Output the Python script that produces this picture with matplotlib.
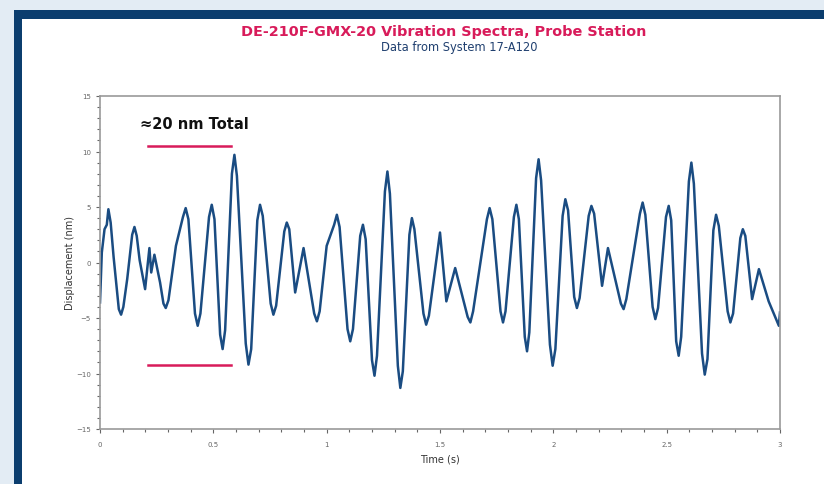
#!/usr/bin/env python3
# vibration trace, probe station
import matplotlib
matplotlib.use("Agg")
import matplotlib.pyplot as plt
from matplotlib.patches import Rectangle
from matplotlib.ticker import MultipleLocator

# points (peaks, troughs and the shoulders around them)
time_s = [0.000, 0.008, 0.020, 0.030, 0.037, 0.047, 0.060, 0.083, 0.093, 0.103,
          0.120, 0.142, 0.152, 0.162, 0.175, 0.199, 0.218, 0.226, 0.240, 0.265,
          0.280, 0.290, 0.302, 0.335, 0.366, 0.378, 0.390, 0.419, 0.431, 0.443,
          0.481, 0.493, 0.505, 0.530, 0.541, 0.552, 0.582, 0.593, 0.604, 0.643,
          0.655, 0.667, 0.694, 0.706, 0.718, 0.753, 0.765, 0.777, 0.813, 0.824,
          0.835, 0.861, 0.898, 0.945, 0.957, 0.969, 1.000, 1.033, 1.045, 1.057,
          1.092, 1.104, 1.116, 1.148, 1.160, 1.172, 1.200, 1.211, 1.222, 1.257,
          1.268, 1.279, 1.314, 1.325, 1.336, 1.365, 1.376, 1.387, 1.427, 1.439,
          1.451, 1.500, 1.528, 1.567, 1.622, 1.634, 1.646, 1.707, 1.719, 1.731,
          1.767, 1.778, 1.789, 1.826, 1.837, 1.848, 1.874, 1.884, 1.894, 1.924,
          1.935, 1.946, 1.985, 1.997, 2.009, 2.041, 2.053, 2.065, 2.092, 2.104,
          2.116, 2.156, 2.168, 2.180, 2.215, 2.241, 2.298, 2.310, 2.322, 2.382,
          2.394, 2.406, 2.438, 2.450, 2.462, 2.497, 2.509, 2.520, 2.542, 2.553,
          2.564, 2.598, 2.609, 2.620, 2.656, 2.668, 2.680, 2.706, 2.718, 2.730,
          2.769, 2.781, 2.793, 2.825, 2.836, 2.847, 2.877, 2.907, 2.950, 2.995,
          3.000]
disp_nm = [-3.6, 0.9, 3.0, 3.4, 4.8, 3.6, 0.5, -4.2, -4.7, -4.0,
           -1.5, 2.5, 3.2, 2.4, 0.2, -2.4, 1.3, -0.9, 0.7, -1.8,
           -3.7, -4.1, -3.4, 1.5, 4.1, 4.9, 3.9, -4.6, -5.7, -4.6,
           4.1, 5.2, 3.9, -6.5, -7.8, -6.1, 8.0, 9.7, 7.8, -7.3,
           -9.2, -7.8, 3.8, 5.2, 4.2, -3.7, -4.7, -3.9, 2.8, 3.6,
           3.0, -2.7, 1.3, -4.6, -5.3, -4.4, 1.5, 3.4, 4.3, 3.2,
           -6.0, -7.1, -6.0, 2.4, 3.4, 2.1, -8.8, -10.2, -8.4, 6.4,
           8.2, 6.2, -9.3, -11.3, -9.8, 2.5, 4.0, 3.0, -4.6, -5.6,
           -4.8, 2.7, -3.5, -0.5, -4.9, -5.4, -4.4, 3.9, 4.9, 3.9,
           -4.4, -5.4, -4.4, 4.1, 5.2, 3.9, -6.7, -8.0, -6.3, 7.6,
           9.3, 7.4, -7.4, -9.3, -7.8, 4.2, 5.7, 4.7, -3.1, -4.1,
           -3.2, 4.2, 5.1, 4.4, -2.1, 1.3, -3.7, -4.2, -3.3, 4.4,
           5.4, 4.3, -4.0, -5.1, -4.1, 4.1, 5.1, 3.8, -7.1, -8.4,
           -6.7, 7.3, 9.0, 7.1, -8.2, -10.1, -8.7, 2.9, 4.3, 3.3,
           -4.4, -5.4, -4.6, 2.2, 3.0, 2.4, -3.3, -0.6, -3.5, -5.7,
           -4.5]

# the "≈20 nm Total" markers
span_t = [0.21, 0.58]
span_hi = 10.5
span_lo = -9.2

navy = "#1a4c82"
crimson = "#d81b5a"

fig = plt.figure(figsize=(8.24, 4.85), dpi=100)
fig.patch.set_facecolor("#e3ecf4")
# dark frame + white panel (kept behind the axes)
fig.patches.append(Rectangle((14 / 824, 0), 1, 1 - 11 / 485, transform=fig.transFigure,
                             facecolor="#0b3d6e", edgecolor="none", zorder=-10))
fig.patches.append(Rectangle((22 / 824, 0), 1, 1 - 20 / 485, transform=fig.transFigure,
                             facecolor="white", edgecolor="none", zorder=-9))

fig.text(444 / 824, 1 - 32 / 485, "DE-210F-GMX-20 Vibration Spectra, Probe Station",
         ha="center", va="center", color=crimson, fontsize=10.4, fontweight="bold")
fig.text(459 / 824, 1 - 48 / 485, "Data from System 17-A120",
         ha="center", va="center", color="#1f3f6f", fontsize=8.3)

ax = fig.add_axes([100 / 824, 1 - 430 / 485, 680 / 824, 333 / 485])
ax.set_zorder(5)
ax.patch.set_facecolor("white")
ax.plot(time_s, disp_nm, color=navy, lw=1.8, solid_joinstyle="round")

ax.plot(span_t, [span_hi, span_hi], color=crimson, lw=1.8)
ax.plot(span_t, [span_lo, span_lo], color=crimson, lw=1.8)
ax.text(0.175, 12.5, "≈20 nm Total", fontsize=10.5, fontweight="bold",
        color="#111111", ha="left", va="center")

ax.set_xlim(0, 3)
ax.set_ylim(-15, 15)
ax.xaxis.set_minor_locator(MultipleLocator(0.1))
ax.yaxis.set_major_locator(MultipleLocator(5))
ax.yaxis.set_minor_locator(MultipleLocator(1))
ax.set_xticks([0, 0.5, 1, 1.5, 2, 2.5, 3])
ax.set_xticklabels(["0", "0.5", "1", "1.5", "2", "2.5", "3"])
ax.tick_params(which="both", direction="out", colors="#666666", labelsize=5,
               length=3, width=0.8)
ax.tick_params(which="minor", length=2)
ax.tick_params(axis="x", pad=6)
for sp in ax.spines.values():
    sp.set_color("#9a9a9a")
    sp.set_linewidth(1.2)

ax.set_xlabel("Time (s)", fontsize=7, color="#333333", labelpad=4)
ax.set_ylabel("Displacement (nm)", fontsize=7, color="#333333", labelpad=1)

plt.savefig("out.png", dpi=100)
plt.close()
